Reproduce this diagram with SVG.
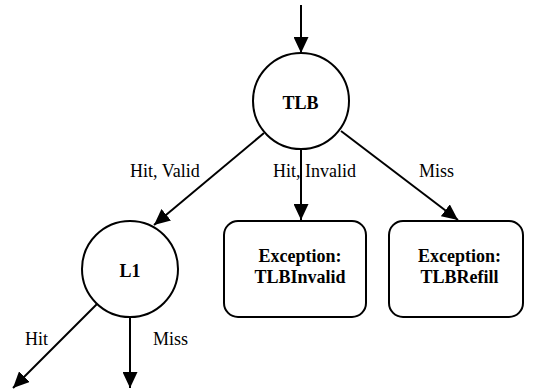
<svg xmlns="http://www.w3.org/2000/svg" width="533" height="389" viewBox="0 0 533 389">
<style>
.node{fill:#fff;stroke:#000;stroke-width:2}
.edge{stroke:#000;stroke-width:2;fill:none}
text{font-family:'Liberation Serif','DejaVu Serif','Times New Roman',serif;fill:#000}
.title{font-weight:bold;font-size:18px;text-anchor:middle}
.lbl{font-size:18px}
</style>
<defs>
<marker id="arr" markerUnits="userSpaceOnUse" markerWidth="16" markerHeight="15" refX="16" refY="7.5" orient="auto">
<path d="M0,0 L16,7.5 L0,15 z" fill="#000"/>
</marker>
</defs>
<g id="connectors">
<line class="edge" x1="301" y1="5" x2="301" y2="53" marker-end="url(#arr)"/>
<line class="edge" x1="264" y1="133" x2="154" y2="225" marker-end="url(#arr)"/>
<line class="edge" x1="301" y1="150" x2="301" y2="220" marker-end="url(#arr)"/>
<line class="edge" x1="341" y1="131" x2="458" y2="220" marker-end="url(#arr)"/>
<line class="edge" x1="97" y1="304" x2="13" y2="388" marker-end="url(#arr)"/>
<line class="edge" x1="130" y1="317" x2="130" y2="388" marker-end="url(#arr)"/>
<text class="lbl" x="130" y="177" font-family="Liberation Serif, serif">Hit, Valid</text>
<text class="lbl" x="273" y="177" font-family="Liberation Serif, serif">Hit, Invalid</text>
<text class="lbl" x="419" y="177" font-family="Liberation Serif, serif">Miss</text>
<text class="lbl" x="25" y="345" font-family="Liberation Serif, serif">Hit</text>
<text class="lbl" x="153" y="345" font-family="Liberation Serif, serif">Miss</text>
</g>
<g id="tlb">
<circle class="node" cx="301" cy="101" r="48"/>
<text class="title" x="300.5" y="109">TLB</text>
</g>
<g id="l1">
<circle class="node" cx="130" cy="269" r="48"/>
<text class="title" x="130" y="277">L1</text>
</g>
<g id="tlbinvalid">
<rect class="node" x="224" y="221" width="142" height="96" rx="14"/>
<text class="title" x="300" y="262">Exception:</text>
<text class="title" x="300" y="283">TLBInvalid</text>
</g>
<g id="tlbrefill">
<rect class="node" x="389" y="221" width="134" height="96" rx="14"/>
<text class="title" x="459.5" y="262">Exception:</text>
<text class="title" x="459.5" y="283">TLBRefill</text>
</g>
</svg>
